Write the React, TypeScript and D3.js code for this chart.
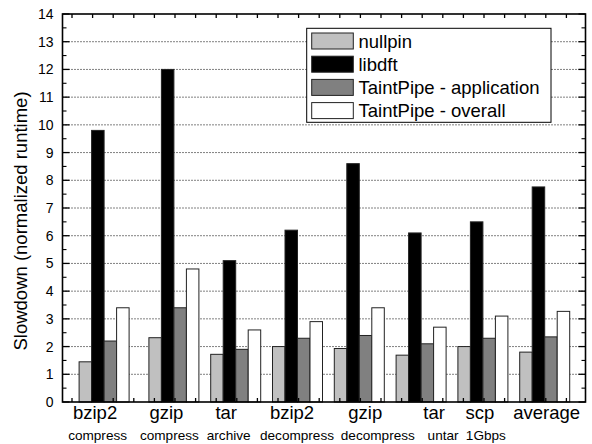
import React from "react";
import * as d3 from "d3";

const categories = ["bzip2", "gzip", "tar", "bzip2", "gzip", "tar", "scp", "average"];
const subLabels = ["compress", "compress", "archive", "decompress", "decompress", "untar", "1Gbps", ""];
const seriesNames = ["nullpin", "libdft", "TaintPipe - application", "TaintPipe - overall"];
const nullpin = [1.45, 2.32, 1.72, 2.0, 1.93, 1.69, 2.0, 1.8];
const libdft = [9.8, 12.0, 5.1, 6.2, 8.6, 6.1, 6.5, 7.76];
const tpApp = [2.2, 3.4, 1.9, 2.3, 2.4, 2.1, 2.3, 2.35];
const tpOverall = [3.4, 4.8, 2.6, 2.9, 3.4, 2.7, 3.1, 3.27];
const yTicks = [0, 1, 2, 3, 4, 5, 6, 7, 8, 9, 10, 11, 12, 13, 14];
const yTitle = "Slowdown (normalized runtime)";

// layout / style (not data)
const colors = ["#c0c0c0", "#000000", "#808080", "#ffffff"];
const W = 592, H = 444;
const L = 62.5, R = 585.5, T = 14, B = 402;
const groupShift = [-8, 0, 0, 0, 0, 0, 0, 0];
const labelShift = [-9, -7.5, -9.5, -5.5, 6, 13, -3, 2];
const subShift = [-6.5, -4.5, -7, -0.5, 18.5, 22, 3, 0];
const FONT = "Arial, 'Liberation Sans', Helvetica, sans-serif";

export default function App() {
  const values = [nullpin, libdft, tpApp, tpOverall];
  const y = d3.scaleLinear().domain([0, 14]).range([B, T]);
  const x = d3.scaleBand<number>().domain(d3.range(categories.length)).range([81.2, 575.6]);
  const inner = d3.scaleBand<number>().domain(d3.range(seriesNames.length)).range([-25, 25]);
  const cx = (i: number) => (x(i) as number) + x.bandwidth() / 2 + groupShift[i];

  const minor = d3.range(0.5, 14, 1);
  const xTickStep = x.step() / 3;
  const xTicks = d3.range(72, R - 2, xTickStep);

  return (
    <svg width={W} height={H} style={{ position: "absolute", left: 0, top: 0, background: "#fff" }}>
      <rect x={0} y={0} width={W} height={H} fill="#fff" />
      {/* gridlines */}
      {yTicks.filter((t) => t > 0 && t < 14).map((t) => (
        <line key={"g" + t} x1={L} x2={R} y1={y(t)} y2={y(t)} stroke="#000" strokeWidth={1} strokeDasharray="1,2" />
      ))}
      {/* bars */}
      {categories.map((c, i) =>
        values.map((arr, s) => (
          <rect
            key={"b" + i + "-" + s}
            x={cx(i) + (inner(s) as number)}
            y={y(arr[i])}
            width={inner.bandwidth()}
            height={B - y(arr[i])}
            fill={colors[s]}
            stroke="#222"
            strokeWidth={1}
          />
        ))
      )}
      {/* frame */}
      <rect x={L} y={T} width={R - L} height={B - T} fill="none" stroke="#000" strokeWidth={1.6} />
      {/* y ticks */}
      {yTicks.map((t) => (
        <g key={"yt" + t}>
          <line x1={L} x2={L + 7} y1={y(t)} y2={y(t)} stroke="#000" strokeWidth={1.3} />
          <line x1={R} x2={R - 7} y1={y(t)} y2={y(t)} stroke="#000" strokeWidth={1.3} />
          <text x={53.5} y={y(t)} dy="0.36em" textAnchor="end" fontSize={14} fontFamily={FONT} fill="#000">
            {t}
          </text>
        </g>
      ))}
      {minor.map((t) => (
        <g key={"ym" + t}>
          <line x1={L} x2={L + 4} y1={y(t)} y2={y(t)} stroke="#000" strokeWidth={1.1} />
          <line x1={R} x2={R - 4} y1={y(t)} y2={y(t)} stroke="#000" strokeWidth={1.1} />
        </g>
      ))}
      {/* x ticks top & bottom */}
      {xTicks.map((xv, k) => (
        <g key={"xt" + k}>
          <line x1={xv} x2={xv} y1={T} y2={T + 4} stroke="#000" strokeWidth={1.3} />
          <line x1={xv} x2={xv} y1={B} y2={B - 4} stroke="#000" strokeWidth={1.3} />
        </g>
      ))}
      {/* x labels */}
      {categories.map((c, i) => (
        <text key={"xl" + i} x={cx(i) + labelShift[i]} y={418.5} textAnchor="middle" fontSize={18.5} fontFamily={FONT} fill="#000">
          {c}
        </text>
      ))}
      {subLabels.map((c, i) => (
        <text key={"xs" + i} x={cx(i) + subShift[i]} y={440} textAnchor="middle" fontSize={13.6} fontFamily={FONT} fill="#000">
          {c}
        </text>
      ))}
      {/* y title */}
      <text
        transform={`translate(27,221) rotate(-90)`}
        textAnchor="middle"
        fontSize={18.5}
        fontFamily={FONT}
        fill="#000"
      >
        {yTitle}
      </text>
      {/* legend */}
      <g>
        <rect x={306.7} y={28.3} width={244.3} height={94} fill="#fff" stroke="#000" strokeWidth={1} />
        {seriesNames.map((n, s) => {
          const cy = 41 + s * 23.2;
          return (
            <g key={"lg" + s}>
              <rect x={311.7} y={cy - 8} width={41.6} height={16} fill={colors[s]} stroke="#222" strokeWidth={1} />
              <text x={358.5} y={cy} dy="0.36em" fontSize={18.5} fontFamily={FONT} fill="#000">
                {n}
              </text>
            </g>
          );
        })}
      </g>
    </svg>
  );
}
